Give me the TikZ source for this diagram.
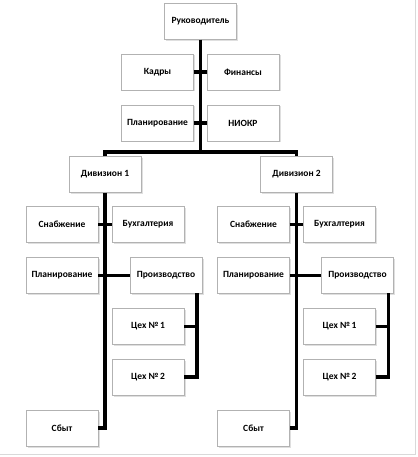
\documentclass[tikz,border=0pt]{standalone}
\usepackage{fontspec}
\setmainfont{Carlito}
\usepackage{tikz}
\usetikzlibrary{positioning, calc, shadows}
\tikzset{
    unit/.style={
        rectangle,
        draw=gray!60,
        fill=white,
        minimum width=72pt,
        minimum height=36pt,
        inner sep=1pt,
        drop shadow={opacity=0.25, shadow xshift=1.5pt, shadow yshift=-1.5pt},
        font=\fontsize{9.5}{10}\selectfont\bfseries
    },
    link/.style={
        draw=black,
        line width=3.5pt
    },
    frame/.style={
        draw=gray!30,
        line width=0.8pt
    }
}
\begin{document}
\begin{tikzpicture}[x=1pt, y=-1pt]
\useasboundingbox (0,0) rectangle (417,457);

% page edge
\draw[frame] (415,0) -- (415,454) -- (0,454);

% Top level
\node[unit] (ruk) at (200.5,21.5) {Руководитель};
\node[unit] (kadry) at (157.5,72) {Кадры};
\node[unit] (fin) at (243,72) {Финансы};
\node[unit] (plan0) at (157.5,123) {Планирование};
\node[unit] (niokr) at (243,123) {НИОКР};
\coordinate (bus) at (200.5,152);

\draw[link] (ruk.south) -- (bus);
\draw[link] (kadry.east) -- (fin.west);
\draw[link] (plan0.east) -- (niokr.west);

% Divisions
\foreach \d/\dx in {1/0, 2/191.5} {
    \begin{scope}[xshift=\dx pt]
    \node[unit] (div\d) at (105,174.5) {Дивизион \d};
    \node[unit] (snab\d) at (62,224.5) {Снабжение};
    \node[unit] (buh\d) at (148,224.5) {Бухгалтерия};
    \node[unit] (plan\d) at (62,275.5) {Планирование};
    \node[unit] (prod\d) at (166,275.5) {Производство};
    \node[unit] (cex\d a) at (148,326.5) {Цех №\,1};
    \node[unit] (cex\d b) at (148,377) {Цех №\,2};
    \node[unit] (sbyt\d) at (62,428) {Сбыт};
    \coordinate (pr\d) at (197,293);
    \end{scope}
    \draw[link] (div\d.south) |- (sbyt\d.east);
    \draw[link] (snab\d.east) -- (buh\d.west);
    \draw[link] (plan\d.east) -- (prod\d.west);
    \draw[link] (cex\d a.east) -| (pr\d);
    \draw[link] (cex\d b.east) -| (pr\d);
}

\draw[link] (div1.north) |- (bus) -| (div2.north);

\end{tikzpicture}
\end{document}
